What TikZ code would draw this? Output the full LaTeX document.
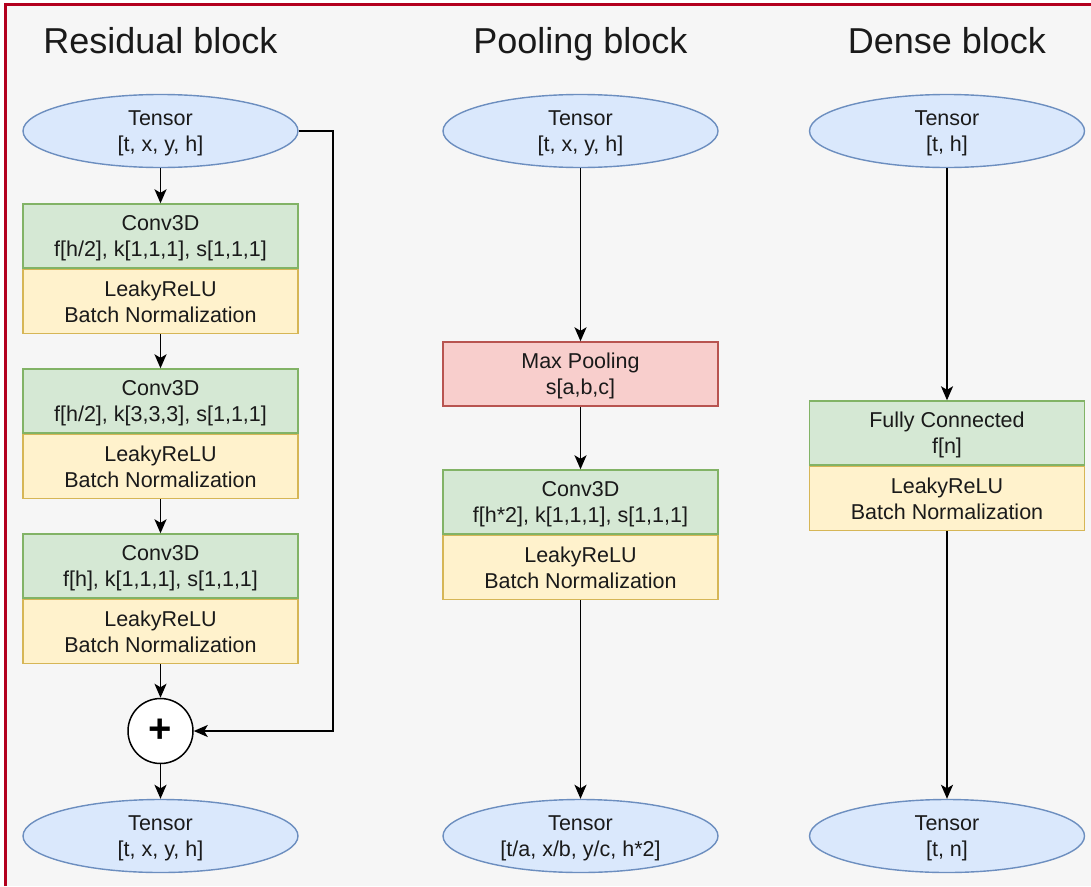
\documentclass[tikz,border=0pt]{standalone}
\usepackage{fontspec}
\setmainfont{Liberation Sans}
\usetikzlibrary{shapes.geometric,arrows.meta,calc}

\definecolor{pagebg}{HTML}{F6F6F6}
\definecolor{frame}{HTML}{B3001E}
\definecolor{tensorfill}{HTML}{DAE8FC}
\definecolor{tensorline}{HTML}{6C8EBF}
\definecolor{convfill}{HTML}{D5E8D4}
\definecolor{convline}{HTML}{82B366}
\definecolor{actfill}{HTML}{FFF2CC}
\definecolor{actline}{HTML}{D6B656}
\definecolor{poolfill}{HTML}{F8CECC}
\definecolor{poolline}{HTML}{B85450}
\definecolor{ink}{HTML}{1A1A1A}

\tikzset{
  label text/.style={font=\fontsize{21.5}{26}\selectfont, text=ink, align=center, text depth=0pt},
  title text/.style={font=\fontsize{36}{42}\selectfont, text=ink, anchor=base},
  tensor/.style={ellipse, label text, draw=tensorline, fill=tensorfill, line width=1.4pt,
    minimum width=275, minimum height=73, inner sep=0pt},
  layerbox/.style={rectangle, label text, line width=1.4pt,
    minimum width=275, minimum height=64, inner sep=0pt},
  convbox/.style={layerbox, draw=convline, fill=convfill},
  actbox/.style={layerbox, draw=actline, fill=actfill, anchor=north},
  poolbox/.style={layerbox, draw=poolline, fill=poolfill},
  sumnode/.style={circle, draw=black, fill=white, line width=1.5pt, minimum size=65, inner sep=0pt,
    font=\fontsize{40}{40}\selectfont\bfseries},
  flow/.style={draw=black, line width=1.8pt, -{Stealth[length=14pt, width=12pt, inset=3.5pt]}},
}

\begin{document}
\begin{tikzpicture}[x=1pt, y=-1pt]
  \useasboundingbox (0,0) rectangle (1091,886);
  \fill[white] (0,0) rectangle (1091,886);
  \fill[pagebg] (5.5,4.5) rectangle (1091,886);
  \draw[frame, line width=3pt] (5.5,886) -- (5.5,4.5) -- (1091,4.5);

  % column headings
  \node[title text] (t1) at (160.5,53) {Residual block};
  \node[title text] (t2) at (580.5,53) {Pooling block};
  \node[title text] (t3) at (947,53) {Dense block};

  % residual block
  \node[tensor] (rin) at (160.5,131) {Tensor\\{}[t, x, y, h]};
  \node[convbox] (rc1) at (160.5,236) {Conv3D\\f[h/2], k[1,1,1], s[1,1,1]};
  \node[actbox] (ra1) at (rc1.south) {LeakyReLU\\Batch Normalization};
  \node[convbox] (rc2) at (160.5,401) {Conv3D\\f[h/2], k[3,3,3], s[1,1,1]};
  \node[actbox] (ra2) at (rc2.south) {LeakyReLU\\Batch Normalization};
  \node[convbox] (rc3) at (160.5,566) {Conv3D\\f[h], k[1,1,1], s[1,1,1]};
  \node[actbox] (ra3) at (rc3.south) {LeakyReLU\\Batch Normalization};
  \node[sumnode] (plus) at (160.5,731) {+};
  \node[tensor] (rout) at (160.5,836) {Tensor\\{}[t, x, y, h]};
  \coordinate (skip) at (333,731);

  \draw[flow] (rin) -- (rc1);
  \draw[flow] (ra1) -- (rc2);
  \draw[flow] (ra2) -- (rc3);
  \draw[flow] (ra3) -- (plus);
  \draw[flow] (plus) -- (rout);
  \draw[flow] (rin.east) -| (skip) -- (plus.east);

  % pooling block
  \node[tensor] (pin) at (580.5,131) {Tensor\\{}[t, x, y, h]};
  \node[poolbox] (pmax) at (580.5,374) {Max Pooling\\s[a,b,c]};
  \node[convbox] (pc) at (580.5,502) {Conv3D\\f[h*2], k[1,1,1], s[1,1,1]};
  \node[actbox] (pa) at (pc.south) {LeakyReLU\\Batch Normalization};
  \node[tensor] (pout) at (580.5,836) {Tensor\\{}[t/a, x/b, y/c, h*2]};

  \draw[flow] (pin) -- (pmax);
  \draw[flow] (pmax) -- (pc);
  \draw[flow] (pa) -- (pout);

  % dense block
  \node[tensor] (din) at (947,131) {Tensor\\{}[t, h]};
  \node[convbox] (dc) at (947,433) {Fully Connected\\f[n]};
  \node[actbox] (da) at (dc.south) {LeakyReLU\\Batch Normalization};
  \node[tensor] (dout) at (947,836) {Tensor\\{}[t, n]};

  \draw[flow] (din) -- (dc);
  \draw[flow] (da) -- (dout);
\end{tikzpicture}
\end{document}
